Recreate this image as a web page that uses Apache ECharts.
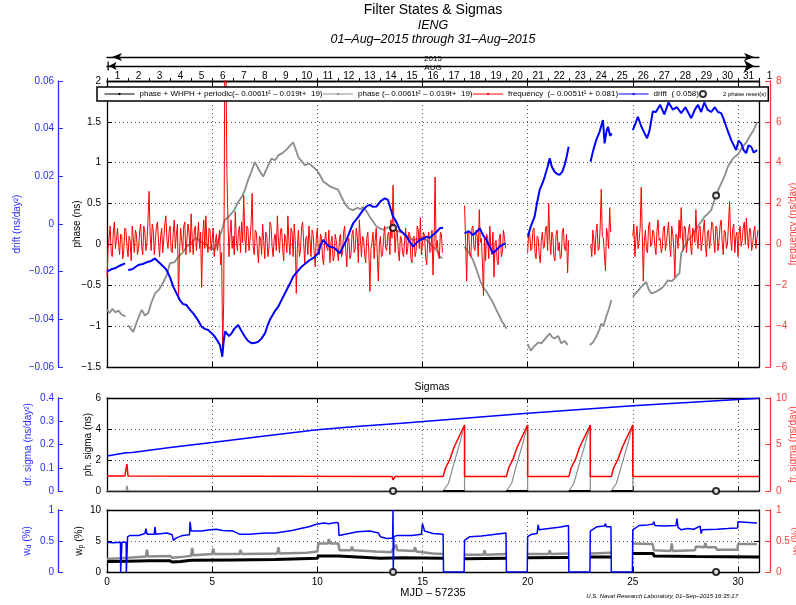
<!DOCTYPE html>
<html><head><meta charset="utf-8">
<script src="https://cdn.jsdelivr.net/npm/echarts@6/dist/echarts.min.js"></script>
<style>html,body{margin:0;padding:0;background:#fff}#c{width:796px;height:605px}</style>
</head><body><div id="c"></div>
<script>
// ================= DATA =================
const days = [1,2,3,4,5,6,7,8,9,10,11,12,13,14,15,16,17,18,19,20,21,22,23,24,25,26,27,28,29,30,31];
const nextMonthLabel = '1';
const xLabels = [0,5,10,15,20,25,30];

// phase (gray), [MJD-57235, ns]; null = gap
const phaseGray = [[0,-0.80],[0.12,-0.84],[0.25,-0.79],[0.4,-0.83],[0.55,-0.81],[0.7,-0.86],[0.88,-0.88],[0.95,null],
[1.01,-0.99],[1.15,-1.04],[1.25,-1.07],[1.4,-0.96],[1.55,-0.86],[1.65,-0.80],[1.8,-0.87],[1.96,-0.84],[2.1,-0.72],[2.28,-0.60],[2.45,-0.56],[2.6,-0.50],[2.68,-0.46],[2.85,-0.37],[2.99,-0.23],[3.2,-0.22],[3.39,-0.15],[3.6,-0.10],[3.78,-0.03],[4.0,0.02],[4.15,0.06],[4.26,0.08],[4.45,0.03],[4.66,0.02],[4.85,-0.05],[4.97,-0.03],[5.1,-0.07],[5.29,0.05],[5.45,0.16],[5.6,0.30],[5.75,0.33],[5.92,0.38],[6.05,0.42],[6.2,0.50],[6.4,0.58],[6.55,0.66],[6.71,0.79],[6.85,0.88],[7.03,1.01],[7.15,0.95],[7.3,0.88],[7.43,0.83],[7.6,0.93],[7.82,1.05],[8.0,1.03],[8.14,1.09],[8.35,1.12],[8.54,1.16],[8.7,1.21],[8.85,1.25],[8.95,1.18],[9.09,1.07],[9.25,1.02],[9.41,0.97],[9.6,0.99],[9.8,0.95],[10.0,0.90],[10.12,0.85],[10.28,0.77],[10.45,0.74],[10.59,0.71],[10.8,0.69],[10.99,0.67],[11.15,0.58],[11.31,0.50],[11.5,0.44],[11.7,0.42],[11.9,0.45],[12.05,0.43],[12.18,0.46],[12.35,0.40],[12.49,0.34],[12.65,0.28],[12.81,0.22],[12.95,0.20],[13.13,0.18],[13.35,0.21],[13.6,0.20],[13.85,0.16],[14.08,0.14],[14.3,0.10],[14.56,0.05],[14.8,0.07],[15.03,0.09],[15.25,0.04],[15.5,-0.03],[15.7,-0.08],[15.82,-0.15],[15.95,-0.17],[16.5,null],
[17.0,-0.03],[17.2,-0.10],[17.4,-0.19],[17.6,-0.33],[17.75,-0.45],[17.88,-0.52],[18.05,-0.58],[18.19,-0.64],[18.35,-0.71],[18.51,-0.80],[18.65,-0.87],[18.75,-0.93],[18.88,-0.98],[18.99,-1.03],[19.5,null],
[20.0,-1.22],[20.15,-1.30],[20.3,-1.25],[20.5,-1.20],[20.65,-1.21],[20.85,-1.15],[21.05,-1.09],[21.15,-1.13],[21.28,-1.15],[21.45,-1.12],[21.6,-1.21],[21.75,-1.18],[21.91,-1.23],[22.5,null],
[22.95,-1.23],[23.1,-1.20],[23.26,-1.13],[23.4,-1.05],[23.5,-0.97],[23.6,-1.00],[23.74,-0.88],[23.85,-0.80],[23.98,-0.68],[24.5,null],
[25.0,-0.64],[25.2,-0.58],[25.4,-0.52],[25.64,-0.46],[25.75,-0.55],[25.88,-0.60],[26.1,-0.58],[26.35,-0.54],[26.5,-0.50],[26.67,-0.44],[26.85,-0.45],[26.98,-0.42],[27.1,-0.38],[27.22,-0.35],[27.3,-0.11],[27.45,-0.03],[27.62,0.05],[27.85,0.12],[28.09,0.22],[28.25,0.28],[28.41,0.34],[28.55,0.37],[28.73,0.42],[28.85,0.52],[28.96,0.60],[29.1,0.69],[29.28,0.79],[29.4,0.86],[29.52,0.95],[29.7,1.03],[29.83,1.07],[30.0,1.10],[30.23,1.20],[30.4,1.25],[30.55,1.32],[30.75,1.40],[30.91,1.50]];

// drift (blue), ns/day^2
const driftBlue = [[0,-0.020],[0.2,-0.019],[0.38,-0.0186],[0.6,-0.0175],[0.86,-0.0165],[0.95,null],
[1.01,-0.0193],[1.2,-0.019],[1.49,-0.0172],[1.7,-0.0168],[1.96,-0.0158],[2.1,-0.0155],[2.28,-0.0144],[2.4,-0.0155],[2.52,-0.0165],[2.7,-0.018],[2.83,-0.0193],[3.0,-0.0225],[3.15,-0.0263],[3.3,-0.029],[3.47,-0.032],[3.6,-0.0335],[3.78,-0.034],[3.95,-0.036],[4.1,-0.0375],[4.3,-0.040],[4.5,-0.0431],[4.65,-0.0440],[4.81,-0.0445],[5.0,-0.046],[5.13,-0.0473],[5.25,-0.049],[5.37,-0.0508],[5.45,-0.054],[5.48,-0.0557],[5.55,-0.049],[5.62,-0.045],[5.69,-0.0459],[5.8,-0.047],[5.92,-0.0459],[6.05,-0.044],[6.24,-0.0424],[6.4,-0.045],[6.56,-0.0473],[6.7,-0.049],[6.87,-0.050],[7.05,-0.0498],[7.19,-0.0494],[7.35,-0.048],[7.51,-0.0459],[7.62,-0.043],[7.74,-0.0403],[7.95,-0.037],[8.14,-0.0347],[8.35,-0.031],[8.54,-0.0277],[8.7,-0.025],[8.85,-0.0221],[9.05,-0.020],[9.25,-0.0179],[9.45,-0.0165],[9.64,-0.0151],[9.85,-0.014],[10.04,-0.0123],[10.15,-0.009],[10.28,-0.0067],[10.45,-0.0085],[10.59,-0.0095],[10.8,-0.010],[11.07,-0.0123],[11.25,-0.009],[11.39,-0.0067],[11.55,-0.003],[11.7,0.0003],[11.95,0.003],[12.18,0.0059],[12.35,0.0075],[12.49,0.0080],[12.65,0.0072],[12.81,0.0073],[13.0,0.0095],[13.21,0.0108],[13.36,0.0101],[13.48,0.0065],[13.6,0.0031],[13.75,0.001],[13.92,-0.0025],[14.1,-0.004],[14.24,-0.0053],[14.4,-0.0075],[14.55,-0.0095],[14.7,-0.008],[14.87,-0.0067],[15.05,-0.0062],[15.19,-0.0053],[15.35,-0.0058],[15.5,-0.0046],[15.7,-0.003],[15.82,-0.0018],[15.98,-0.0016],[16.5,null],
[17.0,-0.0039],[17.2,-0.0030],[17.4,-0.0046],[17.55,-0.0035],[17.72,-0.0018],[17.9,-0.005],[18.04,-0.0067],[18.2,-0.0095],[18.35,-0.0123],[18.5,-0.011],[18.67,-0.0095],[18.8,-0.0088],[18.95,-0.0081],[19.5,null],
[20.01,-0.0053],[20.15,-0.001],[20.33,0.0031],[20.45,0.009],[20.57,0.0143],[20.7,0.017],[20.81,0.0198],[20.95,0.024],[21.05,0.0276],[21.15,0.024],[21.28,0.0219],[21.4,0.021],[21.52,0.0206],[21.65,0.022],[21.76,0.0248],[21.85,0.028],[21.95,0.0324],[22.5,null],
[22.99,0.0261],[23.12,0.031],[23.26,0.0352],[23.42,0.0387],[23.58,0.0436],[23.66,0.0338],[23.75,0.039],[23.82,0.0408],[23.92,0.037],[24.0,0.038],[24.5,null],
[25.0,0.0394],[25.12,0.042],[25.24,0.045],[25.4,0.041],[25.56,0.038],[25.68,0.036],[25.8,0.0394],[25.95,0.0472],[26.1,0.047],[26.3,0.050],[26.5,0.046],[26.7,0.051],[26.9,0.048],[27.1,0.049],[27.3,0.0465],[27.5,0.049],[27.78,0.0444],[27.95,0.048],[28.1,0.050],[28.25,0.047],[28.4,0.051],[28.55,0.048],[28.73,0.047],[28.9,0.049],[29.05,0.047],[29.2,0.0465],[29.32,0.044],[29.44,0.0409],[29.56,0.038],[29.68,0.0352],[29.8,0.033],[29.91,0.031],[30.03,0.035],[30.15,0.0338],[30.27,0.031],[30.39,0.0297],[30.5,0.033],[30.63,0.0324],[30.75,0.030],[30.91,0.031]];

// frequency (red), ns/day, sampled every 0.05 day within each data segment (one row per day)
const freqSegStarts = [0, 17, 20, 23, 25];
const freqStep = 0.05;
const freqA = [
 -1.6,-0.2,0.3,0.9,-0.4,-0.6,0.6,1.1,-0.2,0.2,0.8,0.0,-0.5,0.5,0.4,-0.7,-0.3,0.8,0.7,-0.1,
 -0.6,0.4,0.2,-0.8,0.9,0.3,-0.4,0.7,0.5,-0.5,-0.2,0.6,1.0,-0.1,-0.5,0.9,0.6,-0.3,0.1,1.2,
 2.6,0.5,-0.3,1.0,0.7,-0.5,0.2,0.9,1.1,0.1,-0.6,0.4,0.8,-0.4,0.3,1.0,1.4,0.2,-0.2,0.6,
 0.9,-0.3,-0.4,0.6,1.2,-0.2,0.5,1.0,-2.7,-0.4,0.8,0.2,-0.3,0.9,1.1,-0.5,0.2,1.0,0.6,-0.4,
 1.5,0.3,-0.5,0.7,0.9,-0.3,0.3,1.1,-0.2,0.6,-2.1,0.4,1.2,-0.2,1.4,0.1,-0.4,0.8,0.7,-0.3,
 0.2,0.8,-0.6,0.1,0.5,-0.3,0.1,0.7,-1.0,-0.4,-5.1,-2.8,8.6,9.5,3.6,1.2,-0.6,0.5,1.2,-0.2,
 0.4,-0.5,1.6,0.2,-0.3,0.6,0.9,-0.4,1.1,0.1,2.4,0.5,-0.4,0.9,0.8,-0.3,0.2,1.0,2.5,-0.1,
 -0.5,0.7,0.6,-0.2,-0.9,0.4,0.3,-0.5,1.0,0.2,-0.7,0.6,0.4,-0.6,-0.2,1.1,0.9,-0.1,-0.6,0.3,
 0.5,-0.3,1.4,0.2,-0.4,0.7,0.8,-0.2,-0.8,0.5,0.3,-0.4,1.4,0.1,-0.5,0.8,0.6,-0.6,1.0,0.2,
 -2.4,-0.2,0.7,-0.6,-0.3,0.8,1.1,0.1,-0.9,0.3,0.4,-0.5,0.9,0.2,-0.6,0.7,0.5,-0.4,-1.1,0.3,
 0.8,-0.4,-0.5,0.5,0.3,-0.7,-1.0,0.2,0.6,-0.2,-0.3,0.7,-0.9,0.1,0.4,-0.8,-0.6,0.5,0.2,-0.3,
 -0.8,0.3,0.5,-0.6,-0.4,0.6,0.9,-0.3,-1.1,0.1,0.3,-0.7,-0.5,0.5,0.7,-0.4,-0.2,0.8,0.4,-0.9,
 1.2,0.2,-0.6,0.4,0.3,-0.5,-0.9,0.3,0.6,-0.4,-2.3,-0.2,0.1,0.6,-0.7,0.2,0.8,-0.5,-1.8,0.0,
 0.4,-0.6,-0.5,0.3,0.9,-0.2,-0.3,0.5,0.6,-0.5,1.2,0.3,2.9,0.8,-0.4,0.6,0.7,-0.3,-0.8,0.4,
 0.3,-0.4,-0.6,0.2,0.8,-0.5,-0.2,0.6,0.5,-0.7,-0.9,0.3,0.4,-0.6,-0.3,0.9,0.7,-0.2,1.3,-0.5,
 -0.5,0.6,0.4,-0.6,-1.0,0.2,0.6,-0.4,-0.3,0.7,-1.5,0.1,3.3,-0.2,0.2,-0.5,-0.7,0.6,0.5,-0.4];
const freqB = [
 1.9,0.2,-1.8,0.6,0.5,-0.4,-0.6,0.8,0.9,-0.2,-0.3,0.7,0.4,-0.6,1.7,0.1,0.3,-0.9,-2.5,0.4,
 -0.8,0.5,0.3,-0.7,0.9,-0.2,-0.5,0.6,-1.6,0.1,0.2,-0.8,-1.0,0.3,0.5,-0.6,-0.4,0.7,0.3,-0.2];
const freqC = [
 -0.4,0.6,0.5,-0.3,-0.2,0.7,0.8,-0.4,-0.7,0.4,0.3,-0.5,-0.9,0.2,0.6,-0.2,-0.1,0.8,0.9,-0.3,
 2.0,0.3,-0.5,0.6,0.4,-0.6,-0.8,0.5,0.7,-0.3,0.1,-0.7,-0.6,0.6,0.8,-0.2,-0.3,0.5,-1.4,0.2];
const freqD = [0.0,-0.6,0.7,0.2,-0.5,0.6,1.0,-0.3,-0.2,0.9,2.7,0.4,0.3,-0.5,-1.3,0.8,0.5,-0.2,1.8,0.6];
const freqE = [
 0.4,1.0,-0.6,0.3,0.9,-0.2,0.2,0.8,2.8,0.5,-1.8,0.2,0.7,-0.3,-0.4,0.9,1.1,-0.1,0.0,0.7,
 0.6,-0.1,-0.5,0.7,1.2,0.2,0.3,-0.4,-0.2,0.8,0.9,-0.3,0.1,0.6,1.1,0.0,-0.6,0.9,0.5,-0.2,
 -1.6,0.5,0.4,-0.2,1.2,0.3,1.8,0.6,-0.3,0.9,0.8,-0.4,0.2,0.7,1.0,-0.1,-0.5,0.8,0.6,0.1,
 1.7,0.3,-0.2,0.8,0.9,-0.3,0.1,0.7,1.2,0.0,-0.6,0.6,0.7,-0.2,0.3,1.1,1.0,0.2,-0.4,0.9,
 0.8,-0.3,0.2,0.9,1.2,0.1,-0.5,0.7,0.6,-0.2,0.0,1.0,2.1,0.3,-0.3,0.8,1.0,-0.4,0.4,0.6,
 -0.6,0.5,0.9,-0.1,0.2,0.8,1.1,0.0,1.3,0.4,-0.2,0.8,0.7,-0.3,0.0,0.6,0.9,-0.2,0.3,0.7];

const resetT = [13.6, 28.96];
const resetPhase = [0.20, 0.60];

// Sigmas panel
const drSigmaBlue = [[0,0.151],[0.9,0.165],[0.97,0.161],[1.2,0.166],[3,0.187],[5,0.209],[7.5,0.237],[10,0.263],[12,0.278],[14,0.291],[17,0.313],[20,0.334],[22.5,0.351],[25,0.367],[28,0.383],[31,0.399]];
const frSigmaRed = [[0,1.6],[0.85,1.6],[0.9,2.3],[0.95,2.9],[1.0,1.6],[13.55,1.55],[13.6,1.2],[13.7,1.55],
[15.98,1.55],[16.1,2.5],[16.3,3.4],[16.5,4.7],[16.77,6.0],[17.0,7.1],[17.0,1.55],
[18.99,1.55],[19.1,2.5],[19.3,3.4],[19.5,4.7],[19.77,6.0],[20.0,7.1],[20.0,1.55],
[21.96,1.55],[22.07,2.5],[22.27,3.4],[22.47,4.7],[22.75,6.0],[22.98,7.1],[22.98,1.55],
[23.98,1.55],[24.09,2.5],[24.29,3.4],[24.5,4.7],[24.77,6.0],[25.0,7.1],[25.0,1.55],[31,1.55]];
const phSigmaGray = [[0,0],[0.9,0],[0.95,0.35],[1.0,0],[15.98,0],[16.24,0.5],[16.45,1.57],[16.77,3.07],[17.0,4.26],[17.0,0],
[18.99,0],[19.24,0.5],[19.45,1.57],[19.77,3.07],[20.0,4.26],[20.0,0],
[21.96,0],[22.2,0.5],[22.42,1.57],[22.74,3.07],[22.98,4.26],[22.98,0],
[23.98,0],[24.22,0.5],[24.45,1.57],[24.77,3.07],[25.0,4.26],[25.0,0],[31,0]];
const phSigmaBlack = [[15.98,0],[17.0,0],[17.5,null],[18.99,0],[20.0,0],[20.5,null],[21.96,0],[22.98,0],[23.5,null],[23.98,0],[25.0,0]];

// weights panel
const wdBlue = [[0,0.48],[0.3,0.47],[0.64,0.48],[0.65,0],[0.7,0],[0.71,0.48],[0.91,0.48],[0.92,0],[0.97,0],[0.98,0.57],[1.1,0.59],[1.5,0.59],[1.8,0.62],[1.85,0.70],[1.9,0.61],[2.25,0.61],[2.28,0.73],[2.32,0.61],[2.85,0.63],[3.1,0.60],[3.15,0.51],[3.3,0.55],[3.6,0.59],[3.92,0.60],[3.95,0.81],[4.0,0.66],[4.5,0.66],[4.9,0.68],[5.2,0.69],[5.5,0.67],[6.0,0.66],[6.3,0.61],[6.8,0.61],[7.2,0.62],[7.6,0.63],[8.0,0.63],[8.4,0.65],[8.8,0.67],[9.2,0.70],[9.6,0.73],[9.96,0.77],[10.3,0.79],[10.55,0.78],[10.9,0.80],[11.0,0.79],[11.03,0.59],[11.5,0.62],[11.9,0.65],[12.5,0.66],[12.9,0.63],[13.0,0.57],[13.3,0.54],[13.58,0.55],[13.6,1.0],[13.61,0],[13.64,0.57],[13.8,0.59],[14.5,0.59],[14.95,0.61],[15.0,0.78],[15.1,0.66],[15.5,0.62],[15.98,0.61],[16.0,0],[16.98,0],[17.0,0.51],[17.25,0.57],[17.8,0.58],[18.3,0.60],[18.97,0.63],[18.99,0],[19.98,0],[20.0,0.57],[20.2,0.61],[20.45,0.62],[20.5,0.76],[20.55,0.68],[21.0,0.70],[21.5,0.72],[21.94,0.75],[21.96,0],[22.96,0],[22.98,0.66],[23.3,0.73],[23.65,0.74],[23.7,0.78],[23.75,0.73],[23.96,0.73],[23.98,0],[24.98,0],[25.0,0.68],[25.3,0.75],[25.7,0.76],[25.95,0.77],[26.0,0.81],[26.05,0.75],[26.5,0.74],[27.05,0.75],[27.1,0.86],[27.15,0.72],[27.3,0.68],[27.6,0.70],[27.9,0.69],[28.2,0.74],[28.25,0.62],[28.3,0.68],[29.0,0.69],[29.5,0.70],[29.98,0.71],[30.0,0.81],[30.5,0.80],[30.9,0.79]];
const wpGray = [[0,2.1],[0.6,2.2],[1.0,2.3],[1.85,2.5],[1.9,3.6],[1.95,2.5],[3.0,2.6],[3.1,2.3],[3.5,2.4],[4.0,2.6],[4.05,3.9],[4.1,2.7],[5.0,2.9],[5.05,3.8],[5.1,2.9],[6.3,2.9],[6.35,3.6],[6.4,2.9],[8.1,3.0],[8.15,4.0],[8.2,3.0],[9.5,3.1],[10.0,3.3],[10.05,4.6],[10.5,4.6],[10.55,5.3],[10.6,4.6],[11.0,4.6],[11.05,3.5],[11.6,3.5],[11.65,4.1],[11.7,3.5],[12.8,3.3],[13.5,3.2],[13.75,4.4],[13.8,3.5],[14.6,3.4],[14.65,4.0],[14.7,3.3],[15.5,3.0],[15.98,2.9],[16.5,null],[17.0,2.8],[17.9,2.8],[17.95,3.5],[18.0,2.8],[18.99,2.9],[19.5,null],[20.0,2.9],[21.0,2.9],[21.05,3.5],[21.1,2.9],[21.96,3.0],[22.5,null],[23.0,3.0],[23.98,3.1],[24.5,null],[25.0,4.6],[25.95,4.5],[26.0,3.5],[26.8,3.4],[26.85,4.6],[26.9,3.4],[27.95,3.5],[28.0,4.1],[28.4,4.0],[28.45,4.7],[28.5,4.0],[28.95,4.0],[29.0,3.6],[29.98,3.6],[30.0,4.5],[30.9,4.5]];
const wpBlack = [[0,1.7],[1,1.75],[2,1.8],[3,1.8],[3.1,1.6],[3.5,1.7],[4,1.9],[6,1.95],[8,2.0],[10,2.2],[10.05,2.6],[11,2.6],[11.05,2.3],[13,2.2],[14,2.3],[15.98,2.2],[16.5,null],[17,2.15],[18.99,2.2],[19.5,null],[20,2.3],[21.96,2.35],[22.5,null],[23,2.4],[23.98,2.4],[24.5,null],[25,3.0],[25.98,3.0],[26,2.6],[28,2.5],[31,2.4]];

// ================= CHART =================
const FONT = 'Liberation Sans';
const BLUE = '#0000ff', RED = '#ff0000', GRAY = '#8c8c8c', BLACK = '#000000';
const BLUE_AX = '#2a2aff', RED_AX = '#ff3a3a';
const DOT = 'path://M0,0M10,10M5,2.5L6.8,3.2L7.5,5L6.8,6.8L5,7.5L3.2,6.8L2.5,5L3.2,3.2Z';
const BAR_ARROW = 'path://M0,0L10,0L10,1.4L0,1.4Z M5,1.4L9.5,10L5,8.2L0.5,10Z';

const N1 = 'phase + WHPH + periodic(\u2013 0.0061t\u00b2 \u2013 0.019t+  19)';
const N2 = 'phase (\u2013 0.0061t\u00b2 \u2013 0.019t+  19)';
const N3 = 'frequency  (\u2013 0.0051t\u00b9 + 0.081)';
const N4 = 'drift  ( 0.058)';
const N5 = '2 phase reset(s)';

const minus = v => String(v).replace('-', '\u2212');
const pairs = arr => arr.map(p => [p[0], p[1] === null ? '-' : p[1]]);
function segs(starts, step, lists) {
  const out = [];
  lists.forEach((vals, k) => {
    vals.forEach((v, i) => out.push([+(starts[k] + i * step).toFixed(3), v]));
    out.push([starts[k] + vals.length * step + 0.2, '-']);
  });
  return out;
}
const dotted = {show: true, lineStyle: {type: [1, 3], color: '#555', width: 1}};

function xAx(grid, pos, extra) {
  return Object.assign({
    type: 'value', gridIndex: grid, position: pos, min: 0, max: 31, interval: 5,
    axisLine: {show: true, onZero: false, lineStyle: {color: BLACK, width: 1.3}},
    axisTick: {show: true, inside: true, length: 5, lineStyle: {color: BLACK, width: 1}},
    axisLabel: {show: false}, splitLine: {show: false}, nameMoveOverlap: false
  }, extra || {});
}
function yAx(grid, pos, min, max, interval, extra) {
  return Object.assign({
    type: 'value', gridIndex: grid, position: pos, min, max, interval,
    axisLine: {show: true, onZero: false, lineStyle: {color: BLACK, width: 1.3}},
    axisTick: {show: true, inside: true, length: 5, lineStyle: {color: BLACK, width: 1}},
    axisLabel: {show: false}, splitLine: {show: false}, nameMoveOverlap: false
  }, extra || {});
}
function colored(color, lineColor, labelMargin, formatter) {
  return {
    axisLine: {show: true, onZero: false, lineStyle: {color: lineColor, width: 1.3}},
    axisTick: {show: true, inside: true, length: 5, lineStyle: {color: lineColor, width: 1}},
    axisLabel: {show: true, color: color, fontSize: 10, margin: labelMargin, formatter: formatter || minus}
  };
}
function nameOpts(name, gap, color, rich) {
  const o = {name, nameLocation: 'middle', nameGap: gap, nameRotate: 90,
    nameTextStyle: {fontSize: 10, color: color}};
  if (rich) o.nameTextStyle.rich = rich;
  return o;
}
function subRich(color) {
  return {a: {fontSize: 10, color: color}, b: {fontSize: 7, color: color, padding: [5, 0, 0, 0]}};
}
function lineS(name, xi, yi, data, color, width, z) {
  return {type: 'line', name, xAxisIndex: xi, yAxisIndex: yi, data, showSymbol: false,
    symbol: DOT, symbolSize: 3, connectNulls: false, animation: false, color: color,
    itemStyle: {color: color}, lineStyle: {color: color, width: width}, z: z || 2,
    emphasis: {disabled: true}, silent: true};
}
function circS(name, xi, yi, data) {
  return {type: 'scatter', name, xAxisIndex: xi, yAxisIndex: yi, data, symbol: 'emptyCircle',
    symbolSize: 6, itemStyle: {color: BLACK, borderColor: BLACK, borderWidth: 1.2}, z: 6,
    animation: false, silent: true, clip: false};
}

const dayEdges = [0].concat(days);
const dayCenters = days.map(d => d - 0.5);

const option = {
  animation: false,
  backgroundColor: '#fff',
  textStyle: {fontFamily: FONT},
  title: [
    {text: 'Filter States & Sigmas', left: 433, top: 3.5, textAlign: 'center', textVerticalAlign: 'top', padding: 0,
      textStyle: {fontSize: 14, fontWeight: 'normal', color: BLACK, fontFamily: FONT}},
    {text: 'IENG', left: 433, top: 19, textAlign: 'center', textVerticalAlign: 'top', padding: 0,
      textStyle: {fontSize: 12.5, fontStyle: 'italic', fontWeight: 'normal', color: BLACK, fontFamily: FONT}},
    {text: '01\u2013Aug\u20132015 through 31\u2013Aug\u20132015', left: 433, top: 33, textAlign: 'center', textVerticalAlign: 'top', padding: 0,
      textStyle: {fontSize: 12.5, fontStyle: 'italic', fontWeight: 'normal', color: BLACK, fontFamily: FONT}},
    {text: 'Sigmas', left: 432, top: 381.5, textAlign: 'center', textVerticalAlign: 'top', padding: 0,
      textStyle: {fontSize: 10.5, fontWeight: 'normal', color: BLACK, fontFamily: FONT}},
    {text: 'U.S. Naval Research Laboratory, 01\u2013Sep\u20132015 16:35:17', left: 738, top: 593, textAlign: 'right', textVerticalAlign: 'top', padding: 0,
      textStyle: {fontSize: 6, fontStyle: 'italic', fontWeight: 'normal', color: BLACK, fontFamily: FONT}}
  ],
  legend: {
    left: 97, top: 87, orient: 'horizontal', itemWidth: 30, itemHeight: 6, itemGap: 0,
    padding: [3, 2, 3, 7], backgroundColor: '#fff', borderColor: BLACK, borderWidth: 1.5,
    textStyle: {fontFamily: FONT, fontSize: 8, color: BLACK},
    lineStyle: {width: 1}, selectedMode: false, z: 10,
    data: [{name: N1}, {name: N2}, {name: N3}, {name: N4},
      {name: N5, icon: 'emptyCircle', textStyle: {fontSize: 6}}]
  },
  grid: [
    {left: 107, right: 37, top: 81, height: 286, outerBoundsMode: 'none', containLabel: false},
    {left: 107, right: 37, top: 398, height: 93, outerBoundsMode: 'none', containLabel: false},
    {left: 107, right: 37, top: 510, height: 62, outerBoundsMode: 'none', containLabel: false}
  ],
  xAxis: [
    xAx(0, 'bottom', {splitLine: dotted}),
    xAx(0, 'top', {
      axisTick: {show: true, inside: false, length: 3, customValues: dayEdges, lineStyle: {color: BLACK, width: 1}},
      axisLabel: {show: true, customValues: dayCenters, formatter: v => String(Math.round(v + 0.5)), fontSize: 10, color: BLACK, margin: 0}
    }),
    xAx(0, 'top'),
    xAx(0, 'top', {offset: 15,
      axisLine: {show: true, onZero: false, symbol: [BAR_ARROW, 'arrow'], symbolSize: [9, 10], symbolOffset: [5, -5], lineStyle: {color: BLACK, width: 1.3}},
      axisTick: {show: false}, name: 'AUG', nameLocation: 'middle', nameGap: -2,
      nameTextStyle: {fontSize: 8, color: BLACK, verticalAlign: 'middle', backgroundColor: '#fff', padding: [0, 2]}}),
    xAx(0, 'top', {offset: 24,
      axisLine: {show: true, onZero: false, symbol: ['arrow', 'arrow'], symbolSize: [6, 10], symbolOffset: [5, -5], lineStyle: {color: BLACK, width: 1.3}},
      axisTick: {show: false}, name: '2015', nameLocation: 'middle', nameGap: -2,
      nameTextStyle: {fontSize: 8, color: BLACK, verticalAlign: 'middle', backgroundColor: '#fff', padding: [0, 2]}}),
    xAx(1, 'bottom', {splitLine: dotted}),
    xAx(1, 'top'),
    xAx(2, 'bottom', {splitLine: dotted,
      axisLabel: {show: true, customValues: xLabels, fontSize: 10, color: BLACK, margin: 5},
      name: 'MJD \u2013 57235', nameLocation: 'middle', nameGap: 15,
      nameTextStyle: {fontSize: 11, color: BLACK, verticalAlign: 'top'}}),
    xAx(2, 'top')
  ],
  yAxis: [
    // main panel
    yAx(0, 'left', -1.5, 2, 0.5, Object.assign({splitLine: dotted}, colored(BLACK, BLACK, 6), nameOpts('phase (ns)', 25, BLACK))),
    yAx(0, 'left', -0.06, 0.06, 0.02, Object.assign({offset: 49}, colored(BLUE_AX, BLUE_AX, 4,
        v => Math.abs(v) < 1e-9 ? '0' : minus(v.toFixed(2))), nameOpts('drift (ns/day\u00b2)', 36, BLUE_AX))),
    yAx(0, 'right', -6, 8, 2, Object.assign({offset: 11}, colored(RED_AX, RED_AX, 6), nameOpts('frequency (ns/day)', 18, RED_AX))),
    yAx(0, 'right', -1.5, 2, 0.5),
    // sigmas panel
    yAx(1, 'left', 0, 6, 2, Object.assign({splitLine: dotted}, colored(BLACK, BLACK, 6), nameOpts('ph. sigma (ns)', 14, BLACK))),
    yAx(1, 'left', 0, 0.4, 0.1, Object.assign({offset: 49}, colored(BLUE_AX, BLUE_AX, 4,
        v => Math.abs(v) < 1e-9 ? '0' : String(+v.toFixed(1))), nameOpts('dr. sigma (ns/day\u00b2)', 25, BLUE_AX))),
    yAx(1, 'right', 0, 10, 5, Object.assign({offset: 11}, colored(RED_AX, RED_AX, 6), nameOpts('fr. sigma (ns/day)', 18, RED_AX))),
    yAx(1, 'right', 0, 6, 2),
    // weights panel
    yAx(2, 'left', 0, 10, 5, Object.assign({splitLine: dotted}, colored(BLACK, BLACK, 6), nameOpts('{a|w}{b|p}{a| (%)}', 22, BLACK, subRich(BLACK)))),
    yAx(2, 'left', 0, 1, 0.5, Object.assign({offset: 49}, colored(BLUE_AX, BLUE_AX, 4), nameOpts('{a|w}{b|d}{a| (%)}', 25, BLUE_AX, subRich(BLUE_AX)))),
    yAx(2, 'right', 0, 1, 0.5, Object.assign({offset: 11}, colored(RED_AX, RED_AX, 6), nameOpts('{a|w}{b|f}{a| (%)}', 20, RED_AX, subRich(RED_AX)))),
    yAx(2, 'right', 0, 10, 5)
  ],
  series: [
    lineS(N1, 0, 0, [], BLACK, 1, 2),
    lineS(N2, 0, 0, pairs(phaseGray), GRAY, 1.8, 2),
    lineS(N3, 0, 2, segs(freqSegStarts, freqStep, [freqA, freqB, freqC, freqD, freqE]), RED, 1, 3),
    lineS(N4, 0, 1, pairs(driftBlue), BLUE, 2, 4),
    circS(N5, 0, 0, resetT.map((t, i) => [t, resetPhase[i]])),
    // sigmas
    lineS('sigGray', 5, 4, pairs(phSigmaGray), GRAY, 1.2, 2),
    lineS('sigBlack', 5, 4, pairs(phSigmaBlack), BLACK, 2, 3),
    lineS('sigRed', 5, 6, pairs(frSigmaRed), RED, 1.5, 4),
    lineS('sigBlue', 5, 5, pairs(drSigmaBlue), BLUE, 1.5, 5),
    circS('sigReset', 5, 4, resetT.map(t => [t, 0])),
    // weights
    lineS('wBlack', 7, 8, pairs(wpBlack), BLACK, 3, 2),
    lineS('wGray', 7, 8, pairs(wpGray), GRAY, 2.5, 3),
    lineS('wBlue', 7, 9, pairs(wdBlue), BLUE, 1.5, 4),
    circS('wReset', 7, 8, resetT.map(t => [t, 0]))
  ]
};

const chart = echarts.init(document.getElementById('c'), null, {renderer: 'canvas', width: 796, height: 605});
chart.setOption(option);
const sepX = chart.convertToPixel({xAxisIndex: 1}, 31.5);
const topY = chart.convertToPixel({yAxisIndex: 0}, 2);
chart.setOption({graphic: [{type: 'text', x: sepX, y: topY, silent: true,
  style: {text: nextMonthLabel, fontSize: 10, fontFamily: FONT, fill: BLACK, align: 'center', verticalAlign: 'bottom'}}]});
</script>
</body></html>
